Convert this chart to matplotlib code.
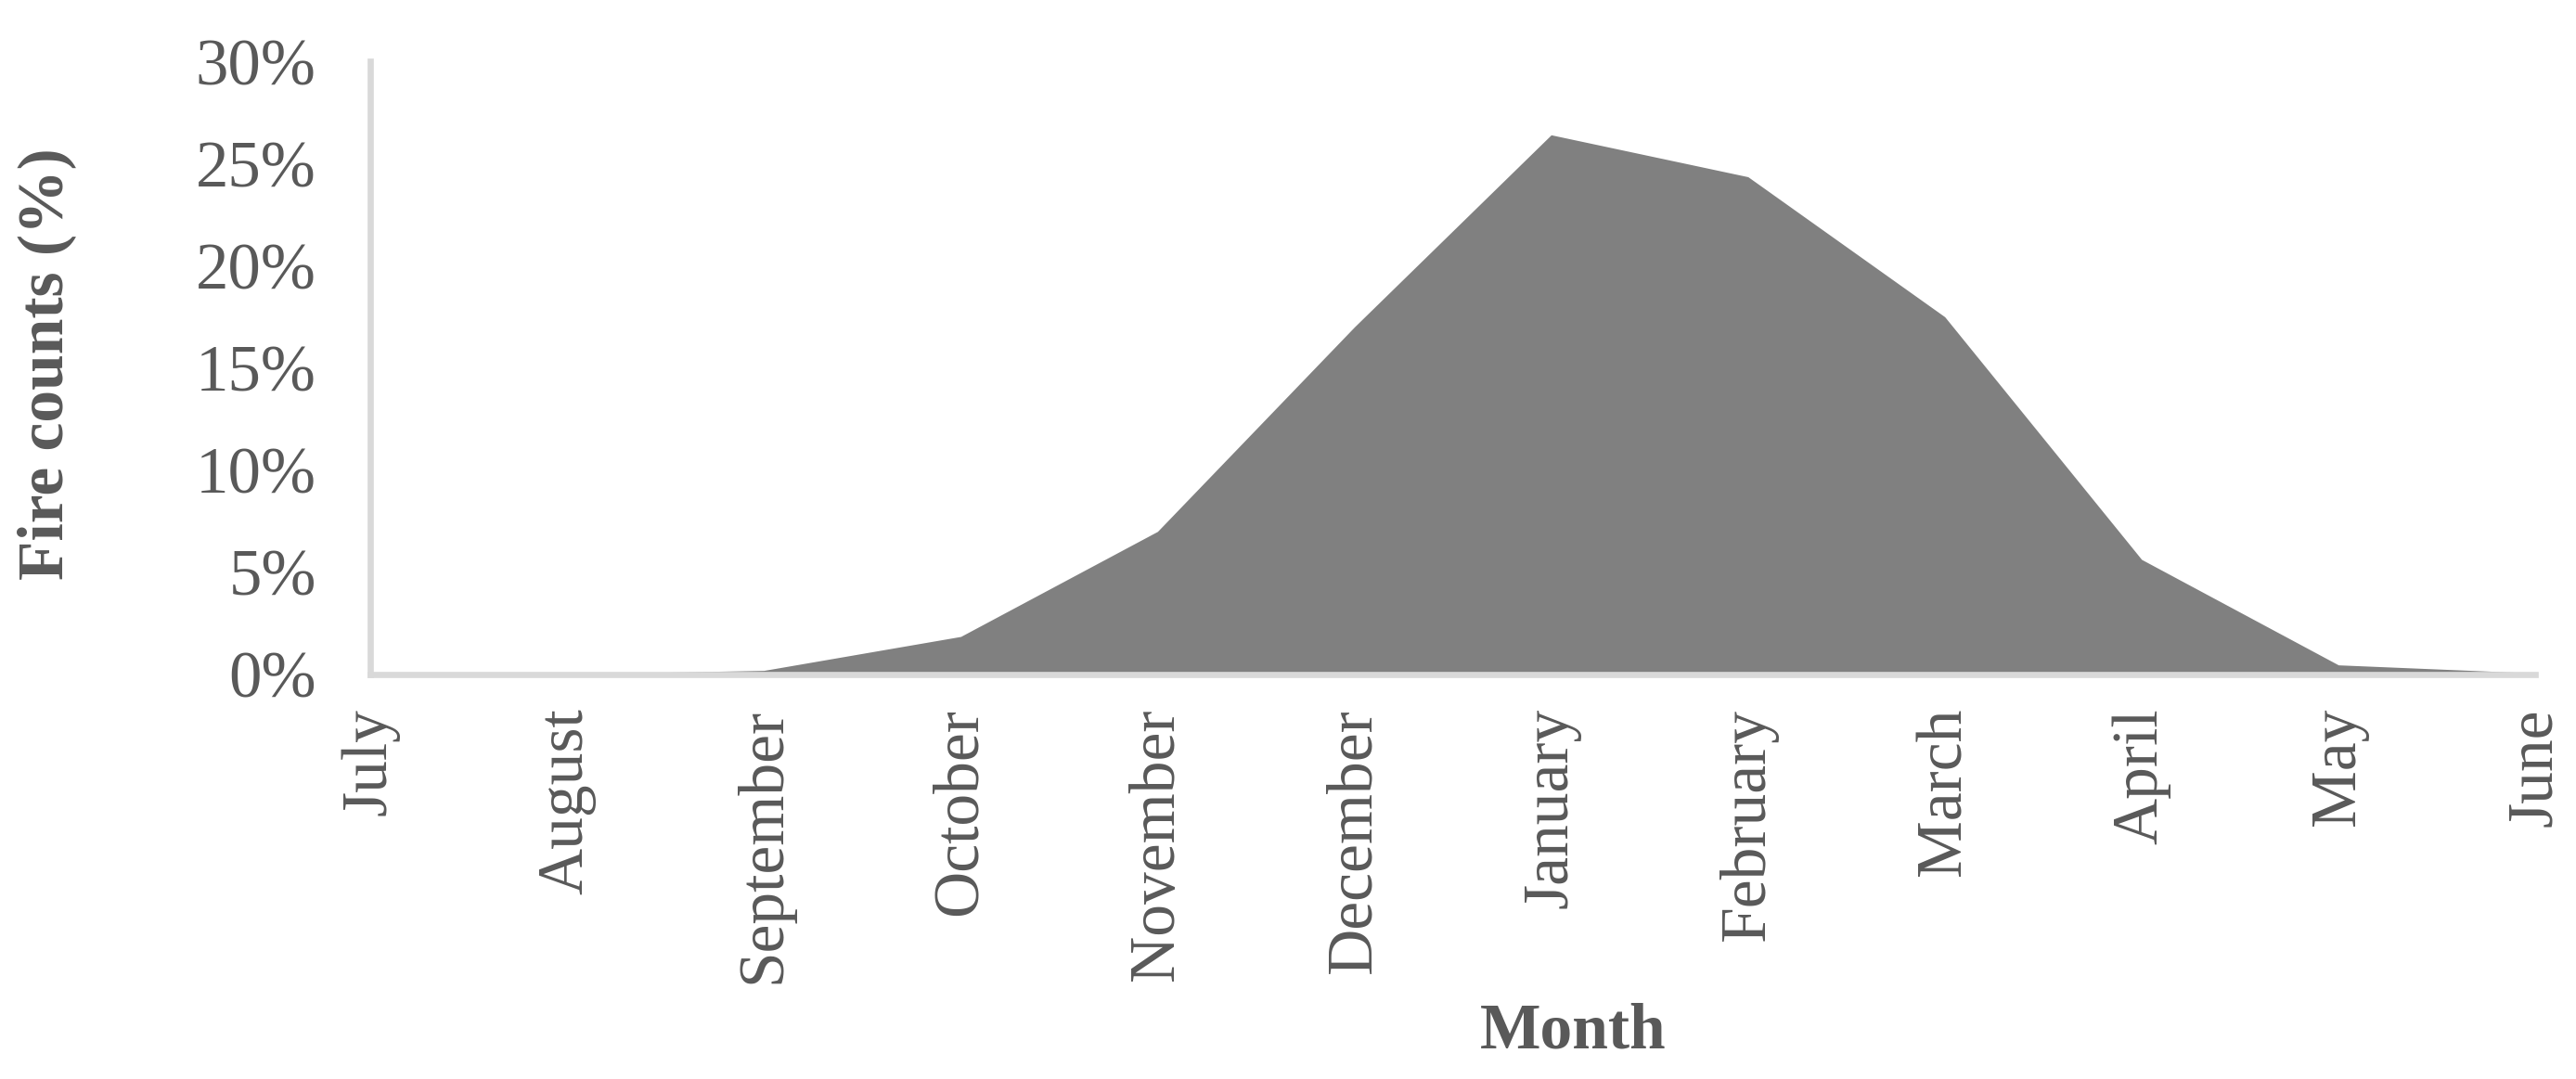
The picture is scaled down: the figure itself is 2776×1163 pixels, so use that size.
import matplotlib
matplotlib.use("Agg")
import matplotlib.pyplot as plt
from matplotlib.ticker import FuncFormatter

months = ["July", "August", "September", "October", "November", "December",
          "January", "February", "March", "April", "May", "June"]
fire_pct = [0.0, 0.02, 0.2, 1.86, 7.0, 17.0, 26.4, 24.35, 17.5, 5.63, 0.47, 0.07]
y_ticks = [0, 5, 10, 15, 20, 25, 30]

plt.rcParams['font.family'] = ['Liberation Serif', 'DejaVu Serif']
text_color = '#595959'

W, H = 2776, 1163
fig = plt.figure(figsize=(W / 100, H / 100), dpi=100)
left, right, bottom, top = 399, 2732, 727, 66
ax = fig.add_axes([left / W, 1 - bottom / H, (right - left) / W, (bottom - top) / H])

x = list(range(len(months)))
ax.fill_between(x, 0, fire_pct, color='#808080', linewidth=0, zorder=1)

ax.set_xlim(0, len(months) - 1)
ax.set_ylim(0, 30)
ax.set_yticks(y_ticks)
ax.yaxis.set_major_formatter(FuncFormatter(lambda v, p: f"{int(v)}%"))
ax.set_xticks(x)
ax.set_xticklabels(months, rotation=90, ha='center', va='top')

for s in ['top', 'right']:
    ax.spines[s].set_visible(False)
for s in ['left', 'bottom']:
    ax.spines[s].set_color('#d9d9d9')
    ax.spines[s].set_linewidth(4.8)
    ax.spines[s].set_zorder(3)

ax.tick_params(axis='x', length=0, pad=26, labelsize=50, colors=text_color)
ax.tick_params(axis='y', length=0, pad=42, labelsize=51, colors=text_color)

fig.text(50 / W, 1 - 392 / H, "Fire counts (%)", rotation=90, ha='center', va='center',
         fontsize=50, fontweight='bold', color=text_color)
fig.text(1695 / W, 1 - 1112 / H, "Month", ha='center', va='center',
         fontsize=50, fontweight='bold', color=text_color)

fig.savefig("out.png", dpi=100, facecolor='white')
